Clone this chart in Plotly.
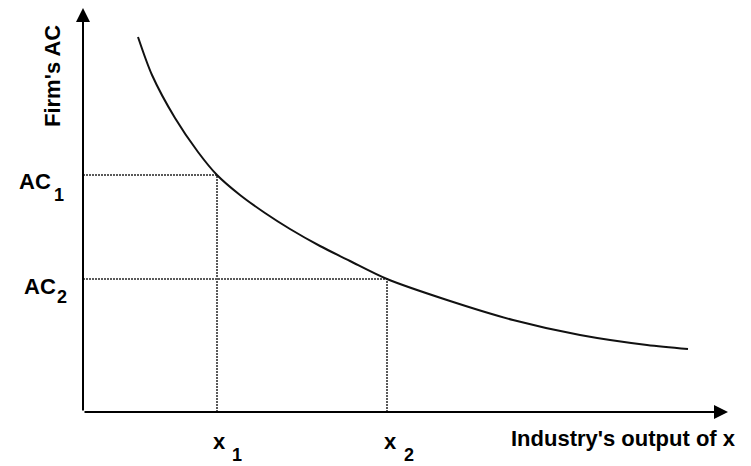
import plotly.graph_objects as go

# Average-cost curve (industry output -> firm's AC)
curve_x = [55, 69, 92, 115, 134, 157, 182, 207, 237, 267, 304, 364, 430, 497, 564, 605]
curve_y = [375, 337, 294, 260, 237, 217, 199, 183, 166, 151, 133, 112, 92, 77, 67, 63]

# Marked output levels and the matching average costs
x_marks = [134, 304]
x_sub = ["1", "2"]
ac_marks = [237, 133]
ac_sub = ["1", "2"]

x_title = "Industry's output of x"
y_title = "Firm's AC"

# ---- layout constants (not data) ----
X_MAX = 645          # x-axis arrow tip
Y_MAX = 404          # y-axis arrow tip
# per-label pixel offsets for AC labels: (main dx, main dy, sub dx, sub dy)
AC_OFF = [(-48, -6, -24, -20), (-43, -7, -21, -18)]
X_OFF = [(2, -29, 20, -43), (3, -29, 22, -43)]

FAM = "Arial, Liberation Sans, Helvetica, sans-serif"
FONT = dict(family=FAM, size=22, color="black", weight="bold")
SUBFONT = dict(family=FAM, size=18, color="black", weight="bold")

fig = go.Figure()

# dotted guide lines
for xm, am in zip(x_marks, ac_marks):
    fig.add_trace(go.Scatter(x=[0, xm, xm], y=[am, am, 0], mode="lines",
                             line=dict(color="#5a5a5a", width=2, dash="2px,1px"),
                             hoverinfo="skip", showlegend=False))

# AC curve
fig.add_trace(go.Scatter(x=curve_x, y=curve_y, mode="lines",
                         line=dict(color="#111111", width=2, shape="spline", smoothing=0.8),
                         hoverinfo="skip", showlegend=False))

annotations = []
# axes drawn as arrows
for tip in [(X_MAX, 0), (0, Y_MAX)]:
    annotations.append(dict(x=tip[0], y=tip[1], ax=0, ay=0, xref="x", yref="y",
                            axref="x", ayref="y", text="", showarrow=True, arrowhead=2,
                            arrowsize=1.4, arrowwidth=2, arrowcolor="black", standoff=0))

# AC tick labels with subscripts
for am, s, off in zip(ac_marks, ac_sub, AC_OFF):
    annotations.append(dict(x=0, y=am, xref="x", yref="y", text="AC", showarrow=False,
                            xanchor="center", yanchor="middle", xshift=off[0], yshift=off[1],
                            font=FONT))
    annotations.append(dict(x=0, y=am, xref="x", yref="y", text=s, showarrow=False,
                            xanchor="center", yanchor="middle", xshift=off[2], yshift=off[3],
                            font=SUBFONT))

# x tick labels with subscripts
for xm, s, off in zip(x_marks, x_sub, X_OFF):
    annotations.append(dict(x=xm, y=0, xref="x", yref="y", text="x", showarrow=False,
                            xanchor="center", yanchor="middle", xshift=off[0], yshift=off[1],
                            font=FONT))
    annotations.append(dict(x=xm, y=0, xref="x", yref="y", text=s, showarrow=False,
                            xanchor="center", yanchor="middle", xshift=off[2], yshift=off[3],
                            font=SUBFONT))

# axis titles
annotations.append(dict(x=X_MAX + 10, y=0, xref="x", yref="y", text=x_title,
                        showarrow=False, xanchor="right", yanchor="middle", yshift=-26,
                        font=FONT))
annotations.append(dict(x=0, y=336, xref="x", yref="y", text=y_title, textangle=-90,
                        showarrow=False, xanchor="center", yanchor="middle", xshift=-31,
                        font=FONT))

# The page body has an 8px margin, so the figure is sized/margined to compensate.
fig.update_layout(
    width=743, height=458,
    margin=dict(l=75, r=10, t=0, b=54, autoexpand=False),
    paper_bgcolor="white", plot_bgcolor="white",
    xaxis=dict(range=[0, 658], visible=False, fixedrange=True),
    yaxis=dict(range=[0, 404], visible=False, fixedrange=True),
    annotations=annotations,
    showlegend=False,
)

fig.write_html("out.html")
